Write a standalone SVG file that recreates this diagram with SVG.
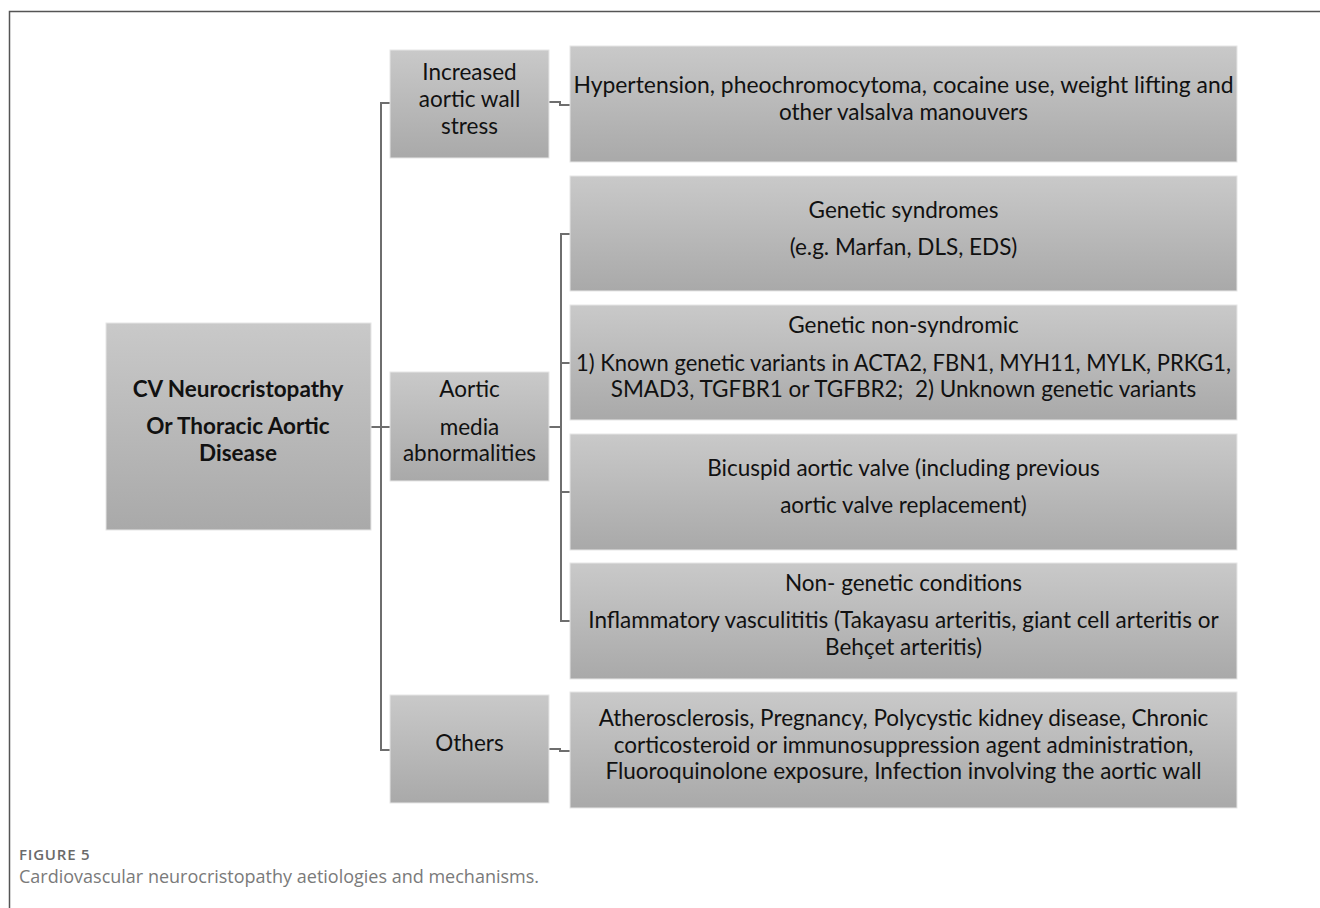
<svg xmlns="http://www.w3.org/2000/svg" width="1320" height="908" viewBox="0 0 1320 908">
<defs>
<linearGradient id="g" x1="0" y1="0" x2="0" y2="1">
<stop offset="0" stop-color="#c9c9c9"/>
<stop offset="1" stop-color="#a9a9a9"/>
</linearGradient>
<style>
.box{fill:url(#g);stroke:#e6e6e6;stroke-width:1}
.t{font-family:Lato,"Liberation Sans",sans-serif;font-size:22.5px;fill:#111;text-anchor:middle}
.b{font-weight:bold}
.c{fill:none;stroke:#6e6e6e;stroke-width:2}
.frame{fill:none;stroke:#555;stroke-width:1.5}
.cap1{font-family:"Open Sans","Liberation Sans",sans-serif;font-size:15px;font-weight:600;fill:#6a6a6a;letter-spacing:0.8px}
.cap2{font-family:"Open Sans","Liberation Sans",sans-serif;font-size:18px;fill:#7a7a7a}
</style>
</defs>
<rect width="1320" height="908" fill="#fff"/>
<path class="frame" d="M9.5 908 V11.5 H1320"/>
<g id="connectors">
<path class="c" d="M371 427 H381"/>
<path class="c" d="M390 103 H381 V750 H390"/>
<path class="c" d="M381 427 H390"/>
<path class="c" d="M549 102 H560 V105 H570"/>
<path class="c" d="M549 749 H560 V751 H570"/>
<path class="c" d="M549 427 H561"/>
<path class="c" d="M570 234 H561 V621 H570"/>
<path class="c" d="M561 363 H570"/>
<path class="c" d="M561 492 H570"/>
</g>
<g id="root">
<rect class="box" x="106" y="323" width="265" height="207"/>
<text class="t b" x="238" y="397">CV Neurocristopathy</text>
<text class="t b" x="238" y="434">Or Thoracic Aortic</text>
<text class="t b" x="238" y="461">Disease</text>
</g>
<g id="n-stress">
<rect class="box" x="390" y="50" width="159" height="108"/>
<text class="t" x="469.5" y="80">Increased</text>
<text class="t" x="469.5" y="107">aortic wall</text>
<text class="t" x="469.5" y="134">stress</text>
</g>
<g id="n-media">
<rect class="box" x="390" y="372" width="159" height="109"/>
<text class="t" x="469.5" y="397">Aortic</text>
<text class="t" x="469.5" y="435">media</text>
<text class="t" x="469.5" y="461">abnormalities</text>
</g>
<g id="n-others">
<rect class="box" x="390" y="695" width="159" height="108"/>
<text class="t" x="469.5" y="751">Others</text>
</g>
<g id="d-hyper">
<rect class="box" x="570" y="46" width="667" height="116"/>
<text class="t" x="903.5" y="93" textLength="660" lengthAdjust="spacingAndGlyphs">Hypertension, pheochromocytoma, cocaine use, weight lifting and</text>
<text class="t" x="903.5" y="120">other valsalva manouvers</text>
</g>
<g id="d-syndromes">
<rect class="box" x="570" y="176" width="667" height="115"/>
<text class="t" x="903.5" y="218">Genetic syndromes</text>
<text class="t" x="903.5" y="255">(e.g. Marfan, DLS, EDS)</text>
</g>
<g id="d-nonsyndromic">
<rect class="box" x="570" y="305" width="667" height="115"/>
<text class="t" x="903.5" y="333">Genetic non-syndromic</text>
<text class="t" x="903.5" y="371" textLength="655" lengthAdjust="spacingAndGlyphs">1) Known genetic variants in ACTA2, FBN1, MYH11, MYLK, PRKG1,</text>
<text class="t" x="903.5" y="397" xml:space="preserve">SMAD3, TGFBR1 or TGFBR2;  2) Unknown genetic variants</text>
</g>
<g id="d-bicuspid">
<rect class="box" x="570" y="434" width="667" height="116"/>
<text class="t" x="903.5" y="476">Bicuspid aortic valve (including previous</text>
<text class="t" x="903.5" y="513">aortic valve replacement)</text>
</g>
<g id="d-nongenetic">
<rect class="box" x="570" y="563" width="667" height="116"/>
<text class="t" x="903.5" y="591">Non- genetic conditions</text>
<text class="t" x="903.5" y="628">Inflammatory vasculititis (Takayasu arteritis, giant cell arteritis or</text>
<text class="t" x="903.5" y="655">Behçet arteritis)</text>
</g>
<g id="d-others">
<rect class="box" x="570" y="692" width="667" height="116"/>
<text class="t" x="903.5" y="726">Atherosclerosis, Pregnancy, Polycystic kidney disease, Chronic</text>
<text class="t" x="903.5" y="753">corticosteroid or immunosuppression agent administration,</text>
<text class="t" x="903.5" y="779">Fluoroquinolone exposure, Infection involving the aortic wall</text>
</g>
<text class="cap1" x="19" y="860">FIGURE 5</text>
<text class="cap2" x="19" y="883">Cardiovascular neurocristopathy aetiologies and mechanisms.</text>
</svg>
